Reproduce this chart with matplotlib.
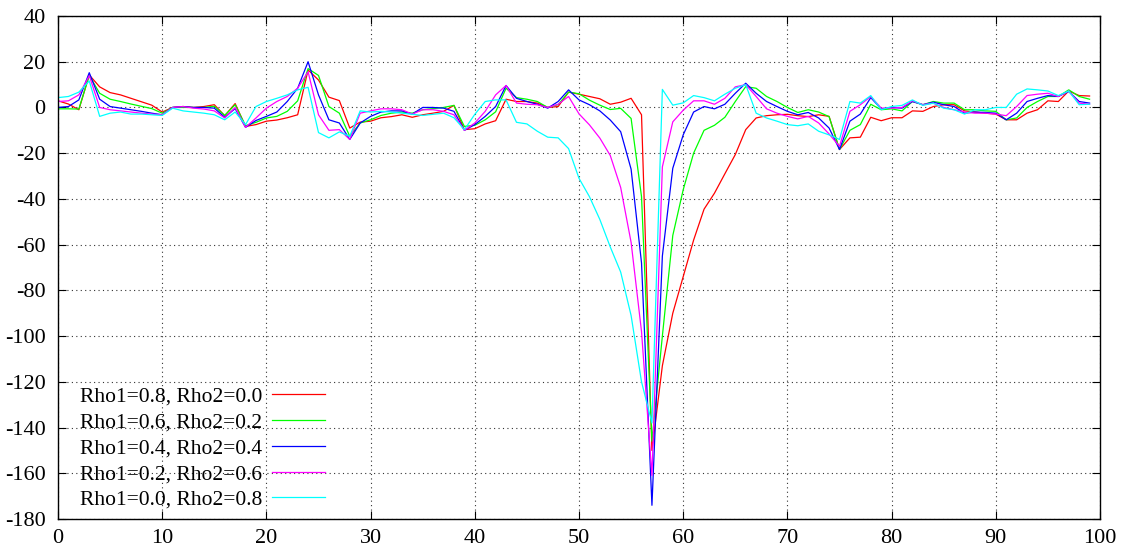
import numpy as np
import matplotlib
matplotlib.use("Agg")
import matplotlib.pyplot as plt

plt.rcParams.update({'font.size': 16, 'font.family': 'Liberation Serif',
                     'axes.unicode_minus': False})

x = np.arange(100)

rho_08_00 = [2.9, 1.5, -1, 14.2, 9, 6.5, 5.5, 4, 2.5, 1,
             -2, 0, 0.4, 0, 0.4, 1.2, -3.6, 1.7, -8.3, -7.5,
             -6, -5.5, -4.5, -3.2, 16.4, 12, 4.5, 3, -9, -6.4,
             -6, -4.5, -4, -3.2, -4.3, -3.2, -2.5, -1.7, 0.9, -9.7,
             -9.3, -7.2, -5.8, 3.6, 2.6, 2.6, 1.9, 0, 0.4, 6.7,
             5.8, 4.8, 3.8, 1.4, 2.3, 4, -3.2, -150, -113, -90,
             -74, -58, -44.5, -37.5, -29, -20.6, -9.7, -4.6, -3.6, -3.2,
             -3, -3.6, -4, -3.2, -3.9, -18.4, -13.3, -13, -4.3, -5.8,
             -4.5, -4.5, -1.5, -1.7, 0.4, 1.2, 1.2, -1.5, -2, -2.5,
             -2.9, -5.4, -5.4, -2.5, -1, 2.9, 2.6, 7.2, 5.2, 5]

rho_06_02 = [-0.6, -0.6, -0.7, 14, 6.2, 3.6, 2.6, 1.5, 0.5, -0.5,
             -2.5, 0, 0, 0, 0, 0.5, -3.5, 1.2, -8, -6.5,
             -4.6, -3.9, -1.7, 2.9, 17, 14, 0.4, -2.5, -12.6, -6.8,
             -5.4, -3.5, -2.5, -2, -2.5, -1, -0.5, 0, 0.9, -8.3,
             -7.8, -5.4, -1.9, 8.4, 4.3, 3.6, 2.6, 0, 1.2, 6.7,
             6, 3.2, 1, -0.9, -0.4, -4.8, -39, -146, -100, -56,
             -36, -20, -10, -7.8, -4.3, 2.6, 9.1, 8.4, 4.8, 2.6,
             0, -2.2, -1, -2, -4, -18.4, -10, -7.5, 1.4, -1,
             -0.6, -1.5, 2.6, 1.2, 2.6, 1.9, 1.9, -1, -1, -1.5,
             -1.7, -5.4, -4.6, 0, 2.6, 4.8, 4.8, 7.7, 4.8, 3.6]

rho_04_04 = [0, 0.4, 3.3, 15.2, 3.6, 0.4, -0.3, -1, -1.7, -2.5,
             -3.2, 0, 0.4, 0, 0, -0.3, -4.3, -0.5, -8.7, -5.7,
             -3.9, -2, 2.6, 8.4, 20, 5.5, -5.4, -6.8, -14, -6.8,
             -3.9, -2, -1.5, -1.5, -2.9, 0, 0, -0.3, -1.7, -10,
             -7.5, -3.9, 0.4, 9.6, 4, 2.6, 1.4, -0.3, 2.6, 7.7,
             3.3, 1.2, -1.5, -5.5, -10.6, -27, -68, -174, -65, -26.6,
             -12, -2, 0.4, -0.6, 1.4, 6.2, 10.6, 6.2, 2.6, 0.4,
             -1.7, -3.2, -2.2, -4.6, -9, -18.4, -6, -2.9, 4.3, -0.6,
             0, -0.3, 2.6, 1.2, 2.3, 1.2, 0.4, -2.5, -2, -2.2,
             -2.5, -5.4, -2.5, 2.6, 4, 5.2, 4.8, 7, 2.6, 1.9]

rho_02_06 = [2.6, 2.9, 5.5, 13.9, 0, -1, -1.5, -2, -2.5, -2.9,
             -3.2, 0, 0.4, -0.3, -0.7, -1.5, -4.6, 0, -8.7, -4.6,
             -0.3, 2.6, 4.8, 8.4, 15.6, -3.2, -10, -9.7, -14, -2.5,
             -1.5, -0.6, -0.6, -1, -2.9, -1, -1, -1.7, -3.2, -10,
             -6.8, -1.7, 5.5, 9.6, 1.9, 1.4, 1.2, 0, 1.4, 4.8,
             -2.8, -7.6, -13.4, -21, -35, -59, -98, -161, -26, -6.3,
             -1.2, 2.9, 2.9, 1.4, 4, 9, 10, 4.8, -0.6, -2.5,
             -3.9, -5, -3.9, -6.8, -11.6, -17, -1.7, 1.2, 4.8, -0.3,
             -0.3, 0, 2.9, 1.2, 1.9, 0, -1, -2, -2.5, -2.5,
             -2.9, -3.6, 0.4, 5.2, 5.8, 6.2, 4.8, 7.2, 1.9, 1.4]

rho_00_08 = [4.3, 4.8, 6.7, 11.6, -3.9, -2.5, -2, -2.9, -2.9, -3.2,
             -3.5, -0.3, -1.5, -2, -2.5, -3.2, -5.4, -2, -7.5, 0.4,
             2.6, 4, 5.5, 7.7, 8.8, -11, -13.3, -10.7, -12.6, -1.5,
             -2, -1.7, -2, -2.5, -3, -3.5, -3, -2.5, -4.5, -9.7,
             -3, 2.6, 3.3, 3.3, -6.5, -7.2, -10.4, -13, -13.3, -18,
             -31, -39, -49, -61, -72, -91, -120, -138, 7.9, 1,
             2, 5.2, 4.3, 2.9, 5.8, 8.4, 10, -2.5, -4.6, -6,
             -7.5, -8, -7.2, -10.4, -12, -14, 2.6, 1.9, 5.2, -1,
             0.4, 0.9, 3.3, 0.9, 1.9, -0.3, -1, -2.9, -1, -1,
             0, 0, 5.8, 8.1, 7.7, 7.2, 5.2, 7.2, 1.2, 1.4]

series = [rho_08_00, rho_06_02, rho_04_04, rho_02_06, rho_00_08]
labels = ["Rho1=0.8, Rho2=0.0", "Rho1=0.6, Rho2=0.2", "Rho1=0.4, Rho2=0.4",
          "Rho1=0.2, Rho2=0.6", "Rho1=0.0, Rho2=0.8"]
colors = ['#ff0000', '#00ff00', '#0000ff', '#ff00ff', '#00ffff']

fig = plt.figure(figsize=(11.35, 5.55), dpi=100)
ax = fig.add_axes([58/1135, 1 - 519/555, 1042/1135, 503/555])

for y, lab, c in zip(series, labels, colors):
    ax.plot(x, y, color=c, lw=0.9, label=lab)

ax.set_xlim(0, 100)
ax.set_ylim(-180, 40)
ax.set_xticks(np.arange(0, 101, 10))
ax.set_yticks(np.arange(-180, 41, 20))
ax.grid(True, color='#333333', ls=(0, (1, 3)), lw=0.8)
ax.tick_params(direction='in', length=6, width=0.8, top=True, right=True)
ax.tick_params(axis='y', pad=9)
ax.tick_params(axis='x', pad=7)
for s in ax.spines.values():
    s.set_linewidth(1.0)

ax.legend(loc='lower left', bbox_to_anchor=(0.0065, -0.012), frameon=False,
          markerfirst=False, handlelength=2.45, handletextpad=0.45,
          labelspacing=0.27, borderpad=0.2, fontsize=15.5)

fig.savefig('out.png', dpi=100)
